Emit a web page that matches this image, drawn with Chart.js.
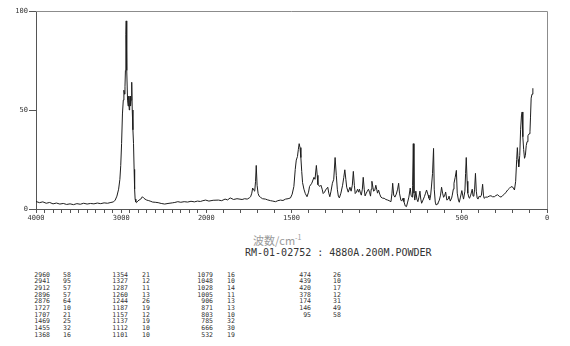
<!DOCTYPE html>
<html lang="ja">
<head>
<meta charset="UTF-8">
<title>Raman spectrum RM-01-02752</title>
<script src="https://cdn.jsdelivr.net/npm/chart.js"></script>
<style>
    body { margin: 0; background: #fff; width: 570px; height: 346px; position: relative; overflow: hidden; }
    #wrap { position: absolute; left: 0; top: 0; width: 570px; height: 225px; }
    .lbl { position: absolute; white-space: pre; }
    #xTitle { left: 253px; top: 232px; font-family: "Noto Sans CJK JP", sans-serif; font-size: 11px; color: #9a9a9a; }
    #xTitle sup { font-size: 7px; }
    #sample { left: 245px; top: 247px; font-family: "DejaVu Sans Mono", monospace; font-size: 10px; color: #333; }
    .cell { position: absolute; font-family: "DejaVu Sans Mono", monospace; font-size: 6.5px; line-height: 6.6px; color: #333; }
</style>
</head>
<body>
<div id="wrap"><canvas id="spec"></canvas></div>
<div class="lbl" id="xTitle">波数/cm<sup>-1</sup></div>
<div class="lbl" id="sample">RM-01-02752 : 4880A.200M.POWDER</div>
<div id="table"></div>

<script>
    // spectrum (wavenumber, intensity)
    const wavenumbers = [
        4000, 3960, 3920, 3880, 3840, 3800, 3760, 3720, 3680, 3640, 3600, 3560, 3520, 3480, 3440, 3400,
        3360, 3320, 3280, 3240, 3200, 3160, 3120, 3090, 3070, 3050, 3030, 3015, 3005, 2995, 2985, 2975,
        2968, 2960, 2955, 2950, 2945, 2941, 2937, 2932, 2925, 2918, 2912, 2905, 2900, 2896, 2890, 2884,
        2876, 2870, 2862, 2855, 2848, 2842, 2836, 2828, 2820, 2805, 2790, 2770, 2751, 2735, 2720, 2700,
        2682, 2660, 2630, 2600, 2566, 2530, 2489, 2450, 2400, 2370, 2335, 2300, 2260, 2220, 2180, 2140,
        2104, 2070, 2040, 2008, 1985, 1960, 1929, 1910, 1890, 1875, 1860, 1840, 1820, 1790, 1775, 1760,
        1748, 1740, 1733, 1728, 1722, 1716, 1711, 1707, 1702, 1696, 1690, 1682, 1670, 1653, 1640, 1623,
        1610, 1594, 1580, 1565, 1550, 1535, 1520, 1506, 1496, 1486, 1478, 1472, 1465, 1460, 1455, 1450,
        1445, 1440, 1435, 1427, 1419, 1409, 1400, 1394, 1381, 1368, 1362, 1354, 1349, 1345, 1333, 1327,
        1320, 1314, 1306, 1300, 1287, 1281, 1275, 1268, 1260, 1252, 1244, 1237, 1231, 1225, 1219, 1210,
        1200, 1193, 1187, 1181, 1176, 1167, 1157, 1150, 1143, 1137, 1131, 1126, 1119, 1112, 1106, 1101,
        1095, 1090, 1084, 1079, 1073, 1068, 1061, 1055, 1048, 1042, 1036, 1032, 1028, 1022, 1018, 1011,
        1005, 1000, 995, 989, 982, 975, 966, 956, 946, 935, 927, 916, 910, 906, 900, 893,
        885, 877, 871, 866, 858, 853, 845, 840, 832, 825, 818, 811, 803, 798, 792, 789,
        785, 781, 776, 770, 764, 758, 752, 746, 741, 736, 728, 720, 713, 707, 698, 693,
        688, 683, 678, 672, 666, 662, 656, 651, 645, 640, 632, 625, 619, 613, 607, 600,
        595, 588, 580, 575, 568, 560, 556, 550, 546, 539, 532, 527, 520, 515, 508, 500,
        495, 490, 482, 478, 474, 469, 465, 459, 455, 448, 439, 434, 429, 425, 420, 415,
        410, 405, 398, 392, 385, 378, 373, 369, 360, 349, 340, 329, 320, 309, 300, 290,
        280, 270, 260, 250, 240, 231, 220, 211, 200, 191, 184, 178, 174, 170, 166, 160,
        155, 150, 146, 143, 141, 137, 132, 127, 122, 117, 112, 105, 100, 97, 93, 88, 83
    ];
    const intensities = [
        3.8, 3.2, 3.6, 2.9, 3.3, 2.6, 3.0, 2.5, 2.8, 2.3, 2.6, 2.2, 2.7, 2.4, 2.9, 2.5,
        2.8, 2.6, 3.0, 2.7, 3.1, 2.9, 3.3, 3.6, 4.5, 6.5, 10, 15, 22, 33, 48, 55,
        60, 58, 62, 70, 88, 95, 92, 70, 55, 52, 57, 50, 54, 57, 52, 55,
        64, 50, 40, 33, 20, 10, 5, 3.5, 3.2, 4, 4.5, 5, 6.2, 5.5, 5, 4.5,
        4.3, 4, 3.5, 3.4, 3.2, 2.8, 2.5, 2.8, 3.1, 3.3, 3.7, 3.4, 3.7, 3.5, 3.9, 3.6,
        4, 3.8, 4.2, 4.5, 4.0, 4.4, 4.5, 4.2, 5, 4.6, 5.6, 4.8, 5.2, 4.8, 5.2, 5,
        5.6, 6.2, 8, 10.6, 9.5, 9, 14, 22, 12, 7.8, 6.5, 5.9, 5.2, 5, 4.6, 4.2,
        4.0, 3.7, 4.2, 4.5, 4.3, 5, 5.2, 5.6, 7.5, 11.4, 20, 24.7, 26.5, 30, 33, 31,
        26, 19, 13.3, 10, 7.8, 6.2, 8.5, 11.4, 13, 16, 15, 22, 17, 12.3, 11.4, 12,
        10, 7.8, 8.5, 9.6, 11, 8, 6.2, 9, 13, 15, 26, 17, 10, 6.5, 5.6, 8,
        12, 16, 19.8, 15, 11, 8.5, 11, 9, 12, 19, 12, 7.8, 8.5, 10, 8.5, 10,
        8, 7, 10, 16, 10, 6.6, 8, 9, 10, 8.5, 6.5, 10, 14, 11, 9, 9.5,
        12, 10, 8, 9.6, 7.5, 6, 5.5, 5.4, 4.8, 4.5, 4.2, 3.7, 8, 13, 7, 6,
        7.5, 10, 13, 8, 4.5, 4, 5.5, 3.7, 1.5, 1.2, 3.5, 6, 10.6, 7, 6, 12,
        33, 8, 4.5, 9, 5, 3.7, 6, 9, 5, 2.9, 4.5, 6.2, 8, 9.6, 7, 5.5,
        4.5, 7, 11.6, 18, 30.6, 10, 3.5, 2, 2.5, 3, 4.5, 7, 11, 8, 5.9, 7,
        8.6, 4.5, 5, 6.5, 4, 5.5, 7, 10, 13, 16, 19.5, 8, 4.5, 3.4, 6, 9.3,
        7, 5, 9, 18, 26, 14, 8, 6, 5.4, 7, 10, 6.5, 7, 10, 18, 9,
        5.5, 5, 6.5, 6, 7, 12.5, 7, 5.4, 6, 6, 6.5, 6.7, 6.2, 6.2, 6.8, 7.2,
        6.4, 6, 6.8, 7.5, 8.5, 9.6, 10.5, 11.3, 11, 9.6, 14, 25, 31, 25, 21.3, 27,
        40, 47, 49, 42, 36.5, 30, 25.6, 27, 32, 34, 37, 38, 39, 46, 56, 58, 61
    ];

    // peak list printed under the chart
    const peakWn = [
        2960, 2941, 2912, 2896, 2876, 1727, 1707, 1469, 1455, 1368,
        1354, 1327, 1287, 1260, 1244, 1187, 1157, 1137, 1112, 1101,
        1079, 1048, 1028, 1005, 906, 871, 803, 785, 666, 532,
        474, 439, 420, 378, 174, 146, 95
    ];
    const peakInt = [
        58, 95, 57, 57, 64, 10, 21, 25, 32, 16,
        21, 12, 11, 13, 26, 19, 12, 19, 10, 10,
        16, 10, 14, 11, 13, 13, 10, 32, 30, 19,
        26, 10, 17, 12, 31, 49, 58
    ];

    const xMinorTicks = [];
    for (let w = 0; w <= 4000; w += 100) xMinorTicks.push(w);
    const xTickLabels = [4000, 3000, 2000, 1500, 500, 0];
    const yTicks = [0, 50, 100];

    // above 2000 cm-1 the axis is compressed to half scale
    function toAxis(wn) { return wn <= 2000 ? wn : 2000 + (wn - 2000) / 2; }
    function fromAxis(u) { return u <= 2000 ? u : 2000 + (u - 2000) * 2; }

    const points = wavenumbers.map((w, i) => ({x: toAxis(w), y: intensities[i]}));

    const framePlugin = {
        id: 'frame',
        afterDraw(chart) {
            const a = chart.chartArea;
            const ctx = chart.ctx;
            ctx.save();
            ctx.strokeStyle = '#8c8c8c';
            ctx.lineWidth = 1;
            ctx.beginPath();
            ctx.moveTo(a.left, a.top + 0.5);
            ctx.lineTo(a.right + 0.5, a.top + 0.5);
            ctx.lineTo(a.right + 0.5, a.bottom);
            ctx.stroke();
            ctx.restore();
        }
    };

    const tickFont = {family: 'DejaVu Sans Mono', size: 7};

    new Chart(document.getElementById('spec'), {
        type: 'line',
        data: {
            datasets: [{
                data: points,
                borderColor: '#1e1e1e',
                borderWidth: 1,
                pointRadius: 0,
                tension: 0,
                fill: false
            }]
        },
        options: {
            responsive: true,
            maintainAspectRatio: false,
            animation: false,
            events: [],
            layout: {padding: {left: 0, right: 23, top: 11, bottom: 0}},
            plugins: {legend: {display: false}, tooltip: {enabled: false}},
            scales: {
                x: {
                    type: 'linear',
                    reverse: true,
                    min: 0,
                    max: toAxis(4000),
                    afterBuildTicks: s => { s.ticks = xMinorTicks.map(w => ({value: toAxis(w)})); },
                    afterFit: s => { s.height = 16; },
                    ticks: {
                        autoSkip: false,
                        maxRotation: 0,
                        padding: 1,
                        font: tickFont,
                        color: '#333',
                        callback: v => {
                            const w = Math.round(fromAxis(v));
                            return xTickLabels.includes(w) ? String(w) : '';
                        }
                    },
                    grid: {drawOnChartArea: false, tickLength: 4, color: '#555'},
                    border: {color: '#555'}
                },
                y: {
                    min: 0,
                    max: 100,
                    afterBuildTicks: s => { s.ticks = yTicks.map(v => ({value: v})); },
                    afterFit: s => { s.width = 36; },
                    ticks: {padding: 1, font: tickFont, color: '#333'},
                    grid: {drawOnChartArea: false, tickLength: 7, color: '#555'},
                    border: {color: '#555'}
                }
            }
        },
        plugins: [framePlugin]
    });

    // peak table: 4 groups of 10 rows
    const table = document.getElementById('table');
    const wnRight = [50, 128, 213, 311];
    const intLeft = [63, 142, 227, 333];
    peakWn.forEach((w, i) => {
        const g = Math.floor(i / 10), r = i % 10;
        const top = 271.7 + r * 6.67;
        const a = document.createElement('div');
        a.className = 'cell';
        a.style.top = top + 'px';
        a.style.right = (570 - wnRight[g]) + 'px';
        a.textContent = w;
        table.appendChild(a);
        const b = document.createElement('div');
        b.className = 'cell';
        b.style.top = top + 'px';
        b.style.left = intLeft[g] + 'px';
        b.textContent = peakInt[i];
        table.appendChild(b);
    });
</script>
</body>
</html>
